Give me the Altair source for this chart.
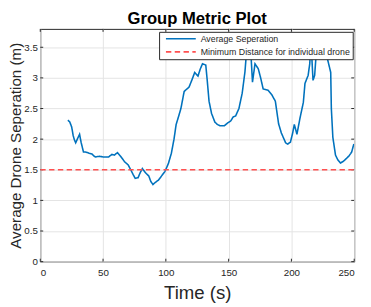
import altair as alt
import pandas as pd

# Average separation over time
time_s = [22, 23.5, 25, 26.2, 27, 28.2, 29.5, 31.3, 32.5, 34.4, 36, 39, 41, 43, 44, 47, 50,
          54.4, 57, 59, 61.5, 64, 67.2, 70, 72.3, 74, 75.6, 77.9, 79.5, 81.3, 83.8, 86.4, 88,
          89.7, 92, 94.1, 97, 99.2, 102, 104.4, 106.5, 108.2, 110, 112, 114.6, 118.5, 121, 123,
          125.6, 127.5, 129.2, 131.8, 133, 134.4, 136.4, 139, 141, 143, 146.7, 149, 151.8, 153.5,
          155.6, 158.2, 160.8, 163, 164, 165.2, 166.2, 167, 168, 169, 171, 173.6, 175.5, 177.5,
          181.3, 184.5, 187.2, 189.8, 192, 195.4, 197, 199.2, 201, 202.3, 204.4, 206.9, 209.5,
          210.8, 213.3, 214.6, 215.6, 217.2, 218.5, 219.8, 221, 223, 226, 228.7, 231.3, 231.8,
          233, 235.1, 237, 239, 241.5, 244.1, 246, 248, 249.7]
avg_sep = [2.31, 2.28, 2.20, 2.06, 2.00, 1.94, 2.00, 2.08, 1.95, 1.79, 1.79, 1.77, 1.76, 1.72,
           1.71, 1.72, 1.71, 1.71, 1.75, 1.74, 1.78, 1.72, 1.63, 1.58, 1.49, 1.42, 1.36, 1.37,
           1.45, 1.52, 1.45, 1.40, 1.31, 1.26, 1.30, 1.33, 1.41, 1.47, 1.60, 1.77, 2.00, 2.24,
           2.36, 2.50, 2.78, 2.85, 2.98, 3.09, 3.03, 3.15, 3.23, 3.21, 2.95, 2.62, 2.42, 2.28,
           2.24, 2.22, 2.22, 2.26, 2.30, 2.36, 2.38, 2.50, 2.75, 3.10, 3.36, 3.70, 3.45, 3.60,
           3.30, 2.93, 3.23, 3.15, 3.00, 2.82, 2.80, 2.72, 2.62, 2.25, 2.10, 1.94, 1.92, 1.95,
           2.10, 2.24, 2.08, 2.35, 2.60, 2.91, 3.04, 3.23, 3.60, 2.96, 3.04, 3.41, 3.65, 3.55,
           3.41, 3.31, 3.09, 2.50, 2.03, 1.74, 1.66, 1.61, 1.64, 1.69, 1.73, 1.79, 1.92]

# Minimum distance threshold
thr_time = [0, 250]
thr_val = [1.5, 1.5]

series_names = ["Average Seperation", "Minimum Distance for individual drone"]
x_ticks = [0, 50, 100, 150, 200, 250]
y_ticks = [0, 0.5, 1, 1.5, 2, 2.5, 3, 3.5]

df = pd.concat([
    pd.DataFrame({"t": time_s, "y": avg_sep, "series": series_names[0]}),
    pd.DataFrame({"t": thr_time, "y": thr_val, "series": series_names[1]}),
])
xt = pd.DataFrame({"t": x_ticks})
yt = pd.DataFrame({"y": y_ticks})

W, H = 321, 238
FONT = "Liberation Sans"
TXT = "#262626"

xs = alt.Scale(domain=[0, 250], nice=False, zero=False)
ys = alt.Scale(domain=[0, 3.8], nice=False, zero=False)
X = alt.X("t:Q", scale=xs, axis=alt.Axis(values=x_ticks, title="Time (s)", format="d",
                                         titleFontSize=19, titleBaseline="alphabetic",
                                         titleY=37.5, labelPadding=6))
Y = alt.Y("y:Q", scale=ys, axis=alt.Axis(values=y_ticks, format=".1~f",
                                         title="Average Drone Seperation (m)",
                                         titleFontSize=15.5, titleBaseline="alphabetic",
                                         titleX=-20.5, titleY=H / 2, labelPadding=3))

legend = alt.Legend(title=None, orient="none", legendX=121.5, legendY=3,
                    symbolType="M0,0H30.5", symbolSize=4, symbolStrokeWidth=1.6,
                    labelFontSize=9, labelFont=FONT, labelColor=TXT, labelOffset=31,
                    fillColor="white", strokeColor=TXT, padding=2.5, rowPadding=3.5,
                    labelLimit=400)

lines = alt.Chart(df).mark_line(strokeWidth=1.6, clip=True).encode(
    x=X, y=Y,
    color=alt.Color("series:N", scale=alt.Scale(domain=series_names,
                                                range=["#0072BD", "#FF5050"]), legend=legend),
    strokeDash=alt.StrokeDash("series:N", scale=alt.Scale(domain=series_names,
                                                          range=[[1, 0], [5.5, 3.5]]), legend=legend),
)

tk = dict(color=TXT, strokeWidth=1)
xt_bot = alt.Chart(xt).mark_rule(**tk).encode(x=X, y=alt.value(H), y2=alt.value(H - 3))
xt_top = alt.Chart(xt).mark_rule(**tk).encode(x=X, y=alt.value(0), y2=alt.value(3))
yt_l = alt.Chart(yt).mark_rule(**tk).encode(y=Y, x=alt.value(0), x2=alt.value(3))
yt_r = alt.Chart(yt).mark_rule(**tk).encode(y=Y, x=alt.value(W), x2=alt.value(W - 3))

chart = alt.layer(xt_bot, xt_top, yt_l, yt_r, lines).properties(
    width=W, height=H,
    title=alt.TitleParams("Group Metric Plot", fontSize=17, fontWeight="bold", font=FONT,
                          color="black", anchor="middle", offset=0.5),
    autosize=alt.AutoSizeParams(type="none"),
    padding={"left": 33, "top": 18, "right": 9, "bottom": 43},
).configure_view(stroke=TXT, strokeWidth=1).configure_axis(
    labelFont=FONT, titleFont=FONT, labelFontSize=10, labelColor=TXT, titleColor=TXT,
    titleFontWeight="normal", domain=False, ticks=False,
    grid=True, gridColor="#e3e3e3", gridWidth=1,
)

chart.save("out.html", embed_options={"renderer": "svg", "actions": False})
